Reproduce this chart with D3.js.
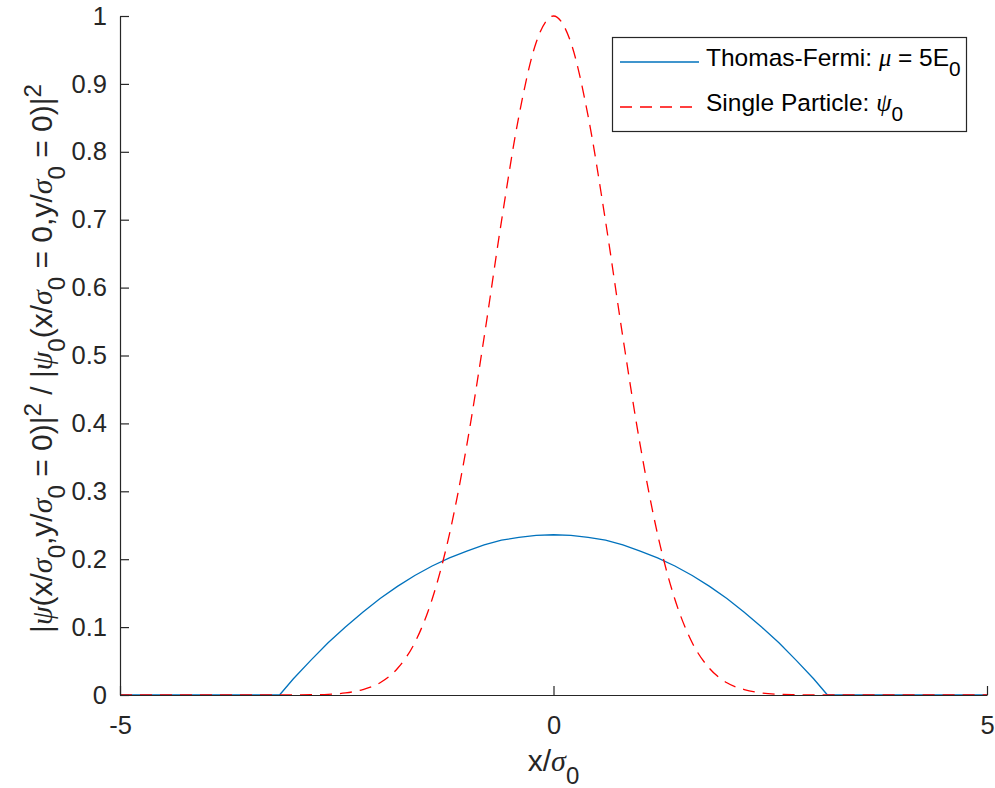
<!DOCTYPE html>
<html>
<head>
<meta charset="utf-8">
<script src="https://cdn.jsdelivr.net/npm/d3@7"></script>
<style>
  body { margin: 0; background: #fff; }
  svg { font-family: "Liberation Sans", Arial, sans-serif; }
  svg text { white-space: pre; }
  .greek { font-family: "Liberation Serif", serif; font-style: italic; }
</style>
</head>
<body>
<div id="chart"></div>
<script>
// thomas-fermi profile
var tfX = [-5, -3.16, -3.0, -2.8, -2.6, -2.4, -2.2, -2.0, -1.8, -1.6, -1.4, -1.2, -1.0, -0.8, -0.6, -0.4, -0.2, 0,
  0.2, 0.4, 0.6, 0.8, 1.0, 1.2, 1.4, 1.6, 1.8, 2.0, 2.2, 2.4, 2.6, 2.8, 3.0, 3.16, 5];
var tfY = [0, 0, 0.024, 0.051, 0.077, 0.100, 0.122, 0.142, 0.160, 0.176, 0.190, 0.202, 0.212, 0.221, 0.228, 0.232, 0.235, 0.236,
  0.235, 0.232, 0.228, 0.221, 0.212, 0.202, 0.190, 0.176, 0.160, 0.142, 0.122, 0.100, 0.077, 0.051, 0.024, 0, 0];

// single particle ground state
var spX = [-5, -3.0, -2.8, -2.6, -2.4, -2.2, -2.0, -1.8, -1.6, -1.4, -1.2, -1.0, -0.8, -0.6, -0.4, -0.2, 0,
  0.2, 0.4, 0.6, 0.8, 1.0, 1.2, 1.4, 1.6, 1.8, 2.0, 2.2, 2.4, 2.6, 2.8, 3.0, 5];
var spY = [0, 0.0001, 0.0004, 0.001, 0.003, 0.008, 0.018, 0.039, 0.077, 0.141, 0.237, 0.368, 0.527, 0.698, 0.852, 0.961, 1,
  0.961, 0.852, 0.698, 0.527, 0.368, 0.237, 0.141, 0.077, 0.039, 0.018, 0.008, 0.003, 0.001, 0.0004, 0.0001, 0];

var xTicks = [-5, 0, 5];
var yTicks = [0, 0.1, 0.2, 0.3, 0.4, 0.5, 0.6, 0.7, 0.8, 0.9, 1];

var width = 995, height = 788;
var margin = {top: 16, right: 8, bottom: 93, left: 120};

var svg = d3.select('#chart').append('svg')
  .attr('width', width)
  .attr('height', height);

var x = d3.scaleLinear().domain([-5, 5]).range([margin.left, width - margin.right]);
var y = d3.scaleLinear().domain([0, 1]).range([height - margin.bottom, margin.top]);

var axisColor = '#262626';
var tickSize = 25.5;
var legendSize = 24.5;

// curves
var tfLine = d3.line()
  .x(function(d, i) { return x(tfX[i]); })
  .y(function(d) { return y(d); });

var spLine = d3.line()
  .x(function(d, i) { return x(spX[i]); })
  .y(function(d) { return y(d); })
  .curve(d3.curveMonotoneX);

svg.append('path')
  .attr('d', tfLine(tfY))
  .attr('fill', 'none')
  .attr('stroke', '#0072BD')
  .attr('stroke-width', 1.3);

svg.append('path')
  .attr('d', spLine(spY))
  .attr('fill', 'none')
  .attr('stroke', '#FF0000')
  .attr('stroke-width', 1.3)
  .attr('stroke-dasharray', '12,8');

// axes, ticks pointing inward like matlab
var xAxis = svg.append('g')
  .attr('transform', 'translate(0,' + y(0) + ')')
  .call(d3.axisBottom(x).tickValues(xTicks).tickSizeInner(-9).tickSizeOuter(0).tickPadding(21)
    .tickFormat(function(d) { return String(d); }));

var yAxis = svg.append('g')
  .attr('transform', 'translate(' + x(-5) + ',0)')
  .call(d3.axisLeft(y).tickValues(yTicks).tickSizeInner(-9).tickSizeOuter(0).tickPadding(13)
    .tickFormat(function(d) { return d === 0 || d === 1 ? String(d) : d3.format('.1f')(d); }));

[xAxis, yAxis].forEach(function(a) {
  a.select('.domain').attr('stroke', axisColor).attr('stroke-width', 1.2);
  a.selectAll('.tick line').attr('stroke', axisColor).attr('stroke-width', 1.2);
  a.selectAll('.tick text')
    .attr('fill', axisColor)
    .style('font-size', tickSize + 'px')
    .style('font-family', '"Liberation Sans", Arial, sans-serif');
});
xAxis.selectAll('.tick text').attr('dy', '0.71em');

// helper for labels with greek letters and sub/superscripts
function richText(sel, parts, size, subScale) {
  parts.forEach(function(p) {
    var t = sel.append('tspan').text(p.t);
    if (p.g) t.attr('class', 'greek');
    if (p.sub) t.attr('baseline-shift', (-size * 0.42) + 'px').style('font-size', (size * subScale) + 'px');
    if (p.sup) t.attr('baseline-shift', (size * 0.38) + 'px').style('font-size', (size * subScale) + 'px');
  });
}

var labelSize = 30;

var xLabel = svg.append('text')
  .attr('x', (x(-5) + x(5)) / 2)
  .attr('y', 771)
  .attr('text-anchor', 'middle')
  .attr('fill', axisColor)
  .style('font-size', labelSize + 'px');
richText(xLabel, [{t: 'x/'}, {t: 'σ', g: true}, {t: '0', sub: true}], labelSize, 0.8);

var yLabel = svg.append('text')
  .attr('transform', 'translate(52,' + ((y(0) + y(1)) / 2 + 3) + ') rotate(-90)')
  .attr('text-anchor', 'middle')
  .attr('fill', axisColor)
  .style('font-size', labelSize + 'px');
richText(yLabel, [
  {t: '|'}, {t: 'ψ', g: true}, {t: '(x/'}, {t: 'σ', g: true}, {t: '0', sub: true},
  {t: ',y/'}, {t: 'σ', g: true}, {t: '0', sub: true}, {t: ' = 0)|'}, {t: '2', sup: true},
  {t: ' / |'}, {t: 'ψ', g: true}, {t: '0', sub: true}, {t: '(x/'}, {t: 'σ', g: true}, {t: '0', sub: true},
  {t: ' = 0,y/'}, {t: 'σ', g: true}, {t: '0', sub: true}, {t: ' = 0)|'}, {t: '2', sup: true}
], labelSize, 0.8);

// legend
var legend = svg.append('g');
legend.append('rect')
  .attr('x', 612.5).attr('y', 37.5)
  .attr('width', 354).attr('height', 94)
  .attr('fill', '#fff')
  .attr('stroke', axisColor)
  .attr('stroke-width', 1.2);

var legendItems = [
  {color: '#0072BD', dash: null, parts: [{t: 'Thomas-Fermi: '}, {t: 'μ', g: true}, {t: ' = 5E'}, {t: '0', sub: true}]},
  {color: '#FF0000', dash: '12,8', parts: [{t: 'Single Particle: '}, {t: 'ψ', g: true}, {t: '0', sub: true}]}
];

legendItems.forEach(function(item, i) {
  var ly = 62 + i * 45;
  legend.append('line')
    .attr('x1', 620).attr('x2', 699)
    .attr('y1', ly).attr('y2', ly)
    .attr('stroke', item.color)
    .attr('stroke-width', 1.3)
    .attr('stroke-dasharray', item.dash);
  var t = legend.append('text')
    .attr('x', 706)
    .attr('y', ly + 4)
    .attr('fill', '#000')
    .style('font-size', legendSize + 'px');
  richText(t, item.parts, legendSize, 0.85);
});
</script>
</body>
</html>
